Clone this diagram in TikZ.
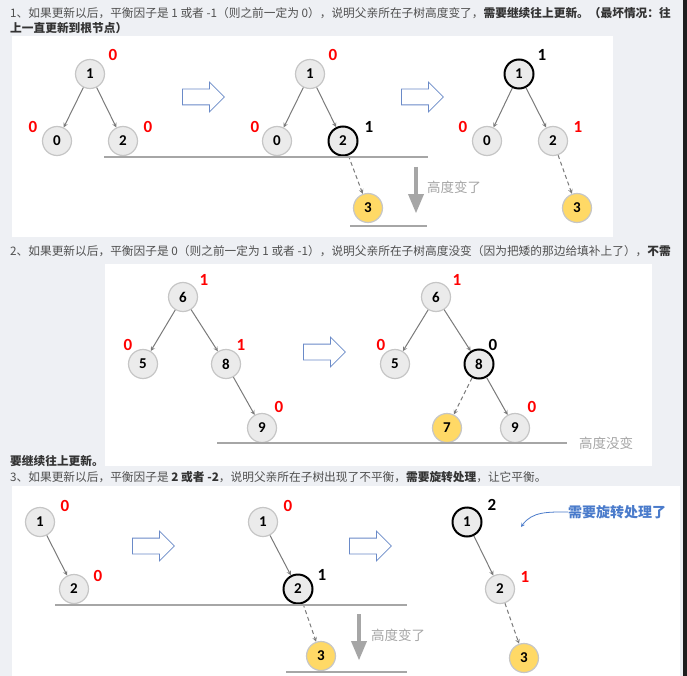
\documentclass[tikz,border=0pt]{standalone}
\usepackage{fontspec}
\setmainfont{Carlito}
\newfontfamily\cjk{Noto Sans CJK SC}
\usepackage{tikz}
\usetikzlibrary{shapes.geometric, shapes.arrows, arrows}
\usetikzlibrary{positioning}

\definecolor{pagegray}{HTML}{EEF0F4}
\definecolor{stripdark}{HTML}{1E1E1E}
\definecolor{nodefill}{HTML}{EBEBEB}
\definecolor{nodeline}{HTML}{C6C6C6}
\definecolor{edgegray}{HTML}{7A7A7A}
\definecolor{newgold}{HTML}{FFD966}
\definecolor{hollowblue}{HTML}{6A8AC8}
\definecolor{notegray}{HTML}{A6A6A6}
\definecolor{noteblue}{HTML}{4A7BCB}
\definecolor{textgray}{HTML}{505050}
\definecolor{textdark}{HTML}{333333}

\tikzstyle{circleNode} = [
                circle,
                minimum size = 29pt,
                text centered,
                draw=nodeline,
                fill=nodefill,
                line width=1.2pt,
                inner sep=0pt,
                font=\bfseries\fontsize{15}{15}\selectfont
            ]
\tikzstyle{curNode} = [circleNode, draw=black, line width=2pt]
\tikzstyle{newNode} = [circleNode, fill=newgold]
\tikzstyle{bfRed} = [text=red, inner sep=0pt, font=\bfseries\fontsize{17}{17}\selectfont]
\tikzstyle{bfBlack} = [bfRed, text=black]
\tikzstyle{arrow} = [draw=edgegray, line width=1pt, ->, >=stealth]
\tikzstyle{dashArrow} = [arrow, dash pattern=on 4pt off 3pt]
\tikzstyle{hollow} = [single arrow, draw=hollowblue, fill=white, line width=0.8pt, minimum height=42pt, inner xsep=0pt, inner ysep=7.5pt, single arrow head extend=7pt, anchor=tail]
\tikzstyle{level} = [draw=notegray, line width=1.5pt]
\tikzstyle{drop} = [draw=notegray, line width=3.5pt, -triangle 45]
\tikzstyle{note} = [text=notegray, anchor=west, inner sep=0pt, font=\cjk\fontsize{13.5}{13.5}\selectfont]
\tikzstyle{para} = [text=textgray, anchor=west, inner sep=0pt, font=\cjk\fontsize{11.7}{11.7}\selectfont]
\tikzstyle{panel} = [fill=white]

\begin{document}
\begin{tikzpicture}[x=1pt, y=-1pt, node distance = 67pt]
% page and panels
\fill [pagegray] (0,0) rectangle (687,676);
\fill [stripdark] (683,0) rectangle (687,676);
\fill [panel] (12,36) rectangle (613,237);
\fill [panel] (105,264) rectangle (652,466);
\fill [panel] (12,486) rectangle (680,676);
\useasboundingbox (0,0) rectangle (687,676);

% text lines
\node (t1a) [para] at (10,13) {1、如果更新以后，平衡因子是 1 或者 -1（则之前一定为 0），说明父亲所在子树高度变了，{\bfseries\color{textdark}需要继续往上更新。（最坏情况：往}};
\node (t1b) [para] at (10,28) {{\bfseries\color{textdark}上一直更新到根节点）}};
\node (t2a) [para] at (10,251) {2、如果更新以后，平衡因子是 0（则之前一定为 1 或者 -1），说明父亲所在子树高度没变（因为把矮的那边给填补上了），{\bfseries\color{textdark}不需}};
\node (t2b) [para] at (10,461) {{\bfseries\color{textdark}要继续往上更新。}};
\node (t3) [para] at (10,477) {3、如果更新以后，平衡因子是 {\bfseries\color{textdark}2 或者 -2}，说明父亲所在子树出现了不平衡，{\bfseries\color{textdark}需要旋转处理}，让它平衡。};

% panel one
\node (a1) [circleNode] at (90,74) {1};
\node (a0) [circleNode, below of=a1, xshift=-33] {0};
\node (a2) [circleNode, below of=a1, xshift=33] {2};
\node (a1b) [bfRed] at ([shift={(23,-19)}]a1) {0};
\node (a0b) [bfRed] at ([shift={(-24,-14)}]a0) {0};
\node (a2b) [bfRed] at ([shift={(25,-14)}]a2) {0};
\draw [arrow] (a1) -- (a0);
\draw [arrow] (a1) -- (a2);
\node (h1) [hollow] at (182,97) {};

\node (b1) [circleNode] at (310,74) {1};
\node (b0) [circleNode, below of=b1, xshift=-33] {0};
\node (b2) [curNode, below of=b1, xshift=33] {2};
\node (b3) [newNode, below of=b2, xshift=25] {3};
\node (b1b) [bfRed] at ([shift={(23,-19)}]b1) {0};
\node (b0b) [bfRed] at ([shift={(-22,-14)}]b0) {0};
\node (b2b) [bfBlack] at ([shift={(26,-14)}]b2) {1};
\draw [arrow] (b1) -- (b0);
\draw [arrow] (b1) -- (b2);
\draw [dashArrow] (b2) -- (b3);
\coordinate (lv1a) at (104,157);
\coordinate (lv1b) at (428,157);
\coordinate (lv1c) at (350,226);
\coordinate (lv1d) at (427,226);
\draw [level] (lv1a) -- (lv1b);
\draw [level] (lv1c) -- (lv1d);
\coordinate (dp1a) at (416,167);
\coordinate (dp1b) at (416,213);
\draw [drop] (dp1a) -- (dp1b);
\node (n1) [note] at (427,187) {高度变了};
\node (h2) [hollow] at (401,97) {};

\node (c1) [curNode] at (519,74) {1};
\node (c0) [circleNode, below of=c1, xshift=-32] {0};
\node (c2) [circleNode, below of=c1, xshift=34] {2};
\node (c3) [newNode, below of=c2, xshift=24] {3};
\node (c1b) [bfBlack] at ([shift={(23,-19)}]c1) {1};
\node (c0b) [bfRed] at ([shift={(-24,-14)}]c0) {0};
\node (c2b) [bfRed] at ([shift={(25,-14)}]c2) {1};
\draw [arrow] (c1) -- (c0);
\draw [arrow] (c1) -- (c2);
\draw [dashArrow] (c2) -- (c3);

% panel two
\node (d6) [circleNode] at (183,297) {6};
\node (d5) [circleNode, below of=d6, xshift=-40] {5};
\node (d8) [circleNode, below of=d6, xshift=43] {8};
\node (d9) [circleNode, below of=d8, xshift=36, yshift=3] {9};
\node (d6b) [bfRed] at ([shift={(21,-17)}]d6) {1};
\node (d5b) [bfRed] at ([shift={(-15,-19)}]d5) {0};
\node (d8b) [bfRed] at ([shift={(15,-19)}]d8) {1};
\node (d9b) [bfRed] at ([shift={(17,-21)}]d9) {0};
\draw [arrow] (d6) -- (d5);
\draw [arrow] (d6) -- (d8);
\draw [arrow] (d8) -- (d9);
\node (h3) [hollow] at (303,352) {};

\node (e6) [circleNode] at (436,297) {6};
\node (e5) [circleNode, below of=e6, xshift=-41] {5};
\node (e8) [curNode, below of=e6, xshift=43] {8};
\node (e7) [newNode, below of=e8, xshift=-32, yshift=3] {7};
\node (e9) [circleNode, below of=e8, xshift=36, yshift=3] {9};
\node (e6b) [bfRed] at ([shift={(21,-17)}]e6) {1};
\node (e5b) [bfRed] at ([shift={(-14,-19)}]e5) {0};
\node (e8b) [bfBlack] at ([shift={(14,-19)}]e8) {0};
\node (e9b) [bfRed] at ([shift={(17,-21)}]e9) {0};
\draw [arrow] (e6) -- (e5);
\draw [arrow] (e6) -- (e8);
\draw [dashArrow] (e8) -- (e7);
\draw [arrow] (e8) -- (e9);
\coordinate (lv2a) at (217,443);
\coordinate (lv2b) at (567,443);
\draw [level] (lv2a) -- (lv2b);
\node (n2) [note] at (579,443) {高度没变};

% panel three
\node (f1) [circleNode] at (40,522) {1};
\node (f2) [circleNode, below of=f1, xshift=34] {2};
\node (f1b) [bfRed] at ([shift={(25,-16)}]f1) {0};
\node (f2b) [bfRed] at ([shift={(24,-13)}]f2) {0};
\draw [arrow] (f1) -- (f2);
\node (h4) [hollow] at (132,546) {};

\node (g1) [circleNode] at (263,522) {1};
\node (g2) [curNode, below of=g1, xshift=35] {2};
\node (g3) [newNode, below of=g2, xshift=23] {3};
\node (g1b) [bfRed] at ([shift={(25,-16)}]g1) {0};
\node (g2b) [bfBlack] at ([shift={(24,-14)}]g2) {1};
\draw [arrow] (g1) -- (g2);
\draw [dashArrow] (g2) -- (g3);
\coordinate (lv3a) at (55,605);
\coordinate (lv3b) at (407,605);
\coordinate (lv3c) at (286,672);
\coordinate (lv3d) at (407,672);
\draw [level] (lv3a) -- (lv3b);
\draw [level] (lv3c) -- (lv3d);
\coordinate (dp3a) at (359,614);
\coordinate (dp3b) at (359,660);
\draw [drop] (dp3a) -- (dp3b);
\node (n3) [note] at (371,635) {高度变了};
\node (h5) [hollow] at (349,546) {};

\node (k1) [curNode] at (467,522) {1};
\node (k2) [circleNode, below of=k1, xshift=33] {2};
\node (k3) [newNode, below of=k2, xshift=24, yshift=-2] {3};
\node (k1b) [bfBlack] at ([shift={(25,-17)}]k1) {2};
\node (k2b) [bfRed] at ([shift={(25,-12)}]k2) {1};
\draw [arrow] (k1) -- (k2);
\draw [dashArrow] (k2) -- (k3);
\node (rot) [note, text=noteblue, font=\cjk\bfseries\fontsize{14}{14}\selectfont] at (568,512) {需要旋转处理了};
\coordinate (rotTip) at (521,527);
\draw [draw=noteblue, line width=0.8pt, ->, >=stealth] (rot.west) to [out=180, in=55] (rotTip);
\end{tikzpicture}
\end{document}
